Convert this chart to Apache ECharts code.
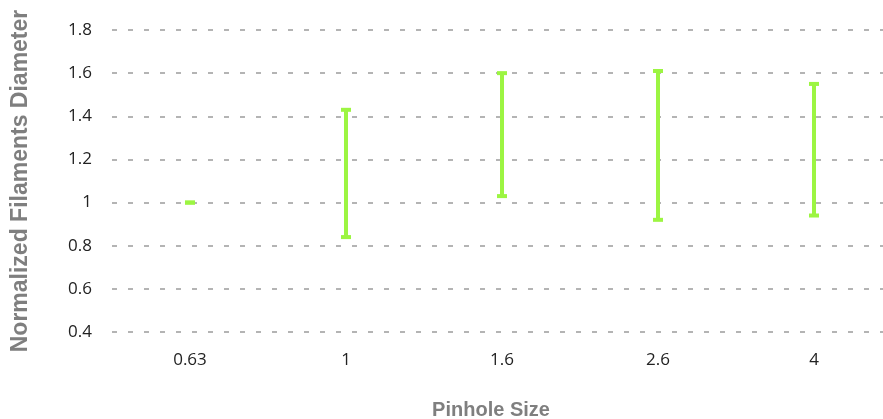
<!DOCTYPE html>
<html>
<head>
<meta charset="utf-8">
<script src="https://cdn.jsdelivr.net/npm/echarts@6/dist/echarts.min.js"></script>
<style>
  html, body { margin: 0; padding: 0; background: #fff; }
  #chart { width: 883px; height: 419px; }
</style>
</head>
<body>
<div id="chart"></div>
<script>
// Pinhole sizes along the x axis
const pinholeSizes = ['0.63', '1', '1.6', '2.6', '4'];
// Lower and upper ends of the normalized diameter range for each pinhole
const diameterLow  = [1.00, 0.84, 1.03, 0.92, 0.94];
const diameterHigh = [1.00, 1.43, 1.60, 1.61, 1.55];
// Y axis ticks
const yMin = 0.4, yMax = 1.8, yStep = 0.2;

const barColor = '#9cf542';

const rangeData = pinholeSizes.map((c, i) => [i, diameterLow[i], diameterHigh[i]]);

const chart = echarts.init(document.getElementById('chart'));
chart.setOption({
  animation: false,
  grid: { left: 112, width: 780, top: 30, height: 302, containLabel: false, outerBoundsMode: 'none' },
  xAxis: {
    type: 'category',
    data: pinholeSizes,
    name: 'Pinhole Size',
    nameLocation: 'middle',
    nameGap: 68,
    nameTextStyle: { fontFamily: 'Liberation Sans', fontWeight: 'bold', fontSize: 20, color: '#7f7f7f', padding: [0, 0, 0, -22] },
    axisLine: { show: false },
    axisTick: { show: false },
    axisLabel: { fontFamily: 'Open Sans', fontSize: 17, color: '#222', margin: 20 },
    splitLine: { show: false }
  },
  yAxis: {
    type: 'value',
    min: yMin,
    max: yMax,
    interval: yStep,
    name: 'Normalized Filaments Diameter',
    nameLocation: 'middle',
    nameGap: 80,
    nameTextStyle: { fontFamily: 'Liberation Sans', fontWeight: 'bold', fontSize: 23, color: '#7f7f7f' },
    axisLine: { show: false },
    axisTick: { show: false },
    axisLabel: { fontFamily: 'Open Sans', fontSize: 17, color: '#222', margin: 20 },
    splitLine: { show: true, lineStyle: { type: [5, 11], width: 2, color: '#b4b4b4' } }
  },
  series: [{
    type: 'custom',
    data: rangeData,
    encode: { x: 0, y: [1, 2] },
    renderItem: function (params, api) {
      const x = api.value(0);
      const lo = api.coord([x, api.value(1)]);
      const hi = api.coord([x, api.value(2)]);
      const capW = 10, capH = 4, lw = 4;
      const style = { fill: barColor };
      return {
        type: 'group',
        children: [
          { type: 'rect', shape: { x: lo[0] - lw / 2, y: hi[1], width: lw, height: lo[1] - hi[1] }, style: style },
          { type: 'rect', shape: { x: hi[0] - capW / 2, y: hi[1] - capH / 2, width: capW, height: capH }, style: style },
          { type: 'rect', shape: { x: lo[0] - capW / 2, y: lo[1] - capH / 2, width: capW, height: capH }, style: style }
        ]
      };
    }
  }]
});
</script>
</body>
</html>
